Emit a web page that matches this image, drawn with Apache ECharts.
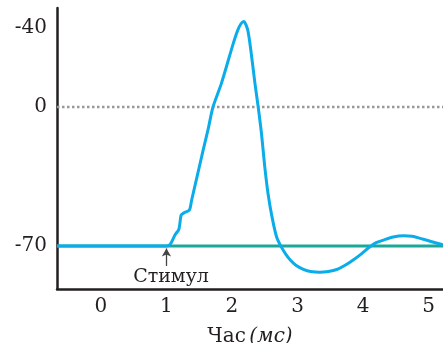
<!DOCTYPE html>
<html><head><meta charset="utf-8">
<script src="https://cdn.jsdelivr.net/npm/echarts@6/dist/echarts.min.js"></script>
<style>html,body{margin:0;padding:0;background:#fff}#c{width:443px;height:343px}</style>
</head><body><div id="c"></div>
<script>
var xTicks = [0, 1, 2, 3, 4, 5];
var yTickValues = [-70, 0, 40];
var yTickLabels = ['-70', '0', '-40'];
var restingLevel = -70;
var thresholdLine = 0;
var stimulusTime = 1;
var stimulusLabel = 'Стимул';
var xName = 'Час';
var xUnit = '(мс)';
var xRange = [-0.67, 5.22];
var yRange = [-91.6, 49.8];
var potentialTime = [-0.67, 1.0, 1.06, 1.13, 1.19, 1.225, 1.27, 1.35, 1.385, 1.47, 1.56, 1.64, 1.71, 1.84, 2.02, 2.09, 2.14, 2.18, 2.24, 2.29, 2.35, 2.40, 2.45, 2.50, 2.55, 2.61, 2.68, 2.75, 2.82, 2.89, 2.98, 3.09, 3.2, 3.34, 3.47, 3.6, 3.72, 3.85, 3.98, 4.1, 4.2, 4.31, 4.46, 4.62, 4.75, 4.87, 5.0, 5.13, 5.22];
var potentialValue = [-70, -70, -69, -64.4, -61.5, -54.4, -53.2, -51.9, -46.8, -34.7, -21.7, -10.6, 0, 12, 32, 38.8, 42, 43, 38.8, 28, 12, 0, -13.3, -30, -43.5, -55.2, -65.3, -70.3, -74, -77, -79.8, -81.7, -82.8, -83.2, -82.8, -81.8, -79.8, -77, -73.8, -70.5, -68.3, -67, -65.4, -64.8, -65.1, -66.1, -67.3, -68.6, -69.4];

var potential = potentialTime.map(function (t, i) { return [t, potentialValue[i]]; });
var font = 'DejaVu Serif';
var chart = echarts.init(document.getElementById('c'));
chart.setOption({
  animation: false,
  grid: { left: 57, right: 0, top: 8, bottom: 54, containLabel: false, outerBoundsMode: 'none' },
  xAxis: {
    type: 'value', min: xRange[0], max: xRange[1],
    axisLine: { show: true, onZero: false, lineStyle: { color: '#231f20', width: 2.5 } },
    axisTick: { show: false }, splitLine: { show: false },
    axisLabel: { customValues: xTicks, color: '#231f20', fontFamily: font, fontSize: 20, margin: 8 },
    name: '{a|' + xName + '} {b|' + xUnit + '}', nameLocation: 'middle', nameGap: 38,
    nameTextStyle: { rich: {
      a: { fontFamily: font, fontSize: 20, color: '#231f20' },
      b: { fontFamily: font, fontSize: 20, fontStyle: 'italic', color: '#231f20' } } }
  },
  yAxis: {
    type: 'value', min: yRange[0], max: yRange[1],
    axisLine: { show: true, onZero: false, lineStyle: { color: '#231f20', width: 2.5 } },
    axisTick: { show: false }, splitLine: { show: false },
    axisLabel: { customValues: yTickValues, color: '#231f20', fontFamily: font, fontSize: 20, margin: 10,
      formatter: function (v) { var i = yTickValues.indexOf(v); return i >= 0 ? yTickLabels[i] : ''; } }
  },
  series: [
    { type: 'line', data: [[xRange[0], thresholdLine], [xRange[1], thresholdLine]], symbol: 'none',
      lineStyle: { color: '#999', width: 2.5, type: [2.5, 2.5] } },
    { type: 'line', data: [[xRange[0], restingLevel], [xRange[1], restingLevel]], symbol: 'none',
      lineStyle: { color: '#1aa89a', width: 3 },
      markLine: { silent: true, symbol: ['none', 'arrow'], symbolSize: [7, 8],
        lineStyle: { color: '#444', width: 1.3, type: 'solid' }, label: { show: false },
        data: [[{ coord: [stimulusTime, -80] }, { coord: [stimulusTime, -71.2] }]] },
      markPoint: { symbol: 'circle', symbolSize: 0,
        label: { show: true, formatter: stimulusLabel, fontFamily: font, fontSize: 19, color: '#231f20', position: 'inside' },
        data: [{ coord: [stimulusTime + 0.07, -85.6] }] } },
    { type: 'line', data: potential, symbol: 'none', smooth: 0.25,
      lineStyle: { color: '#0aade9', width: 3 } }
  ]
});
</script></body></html>
